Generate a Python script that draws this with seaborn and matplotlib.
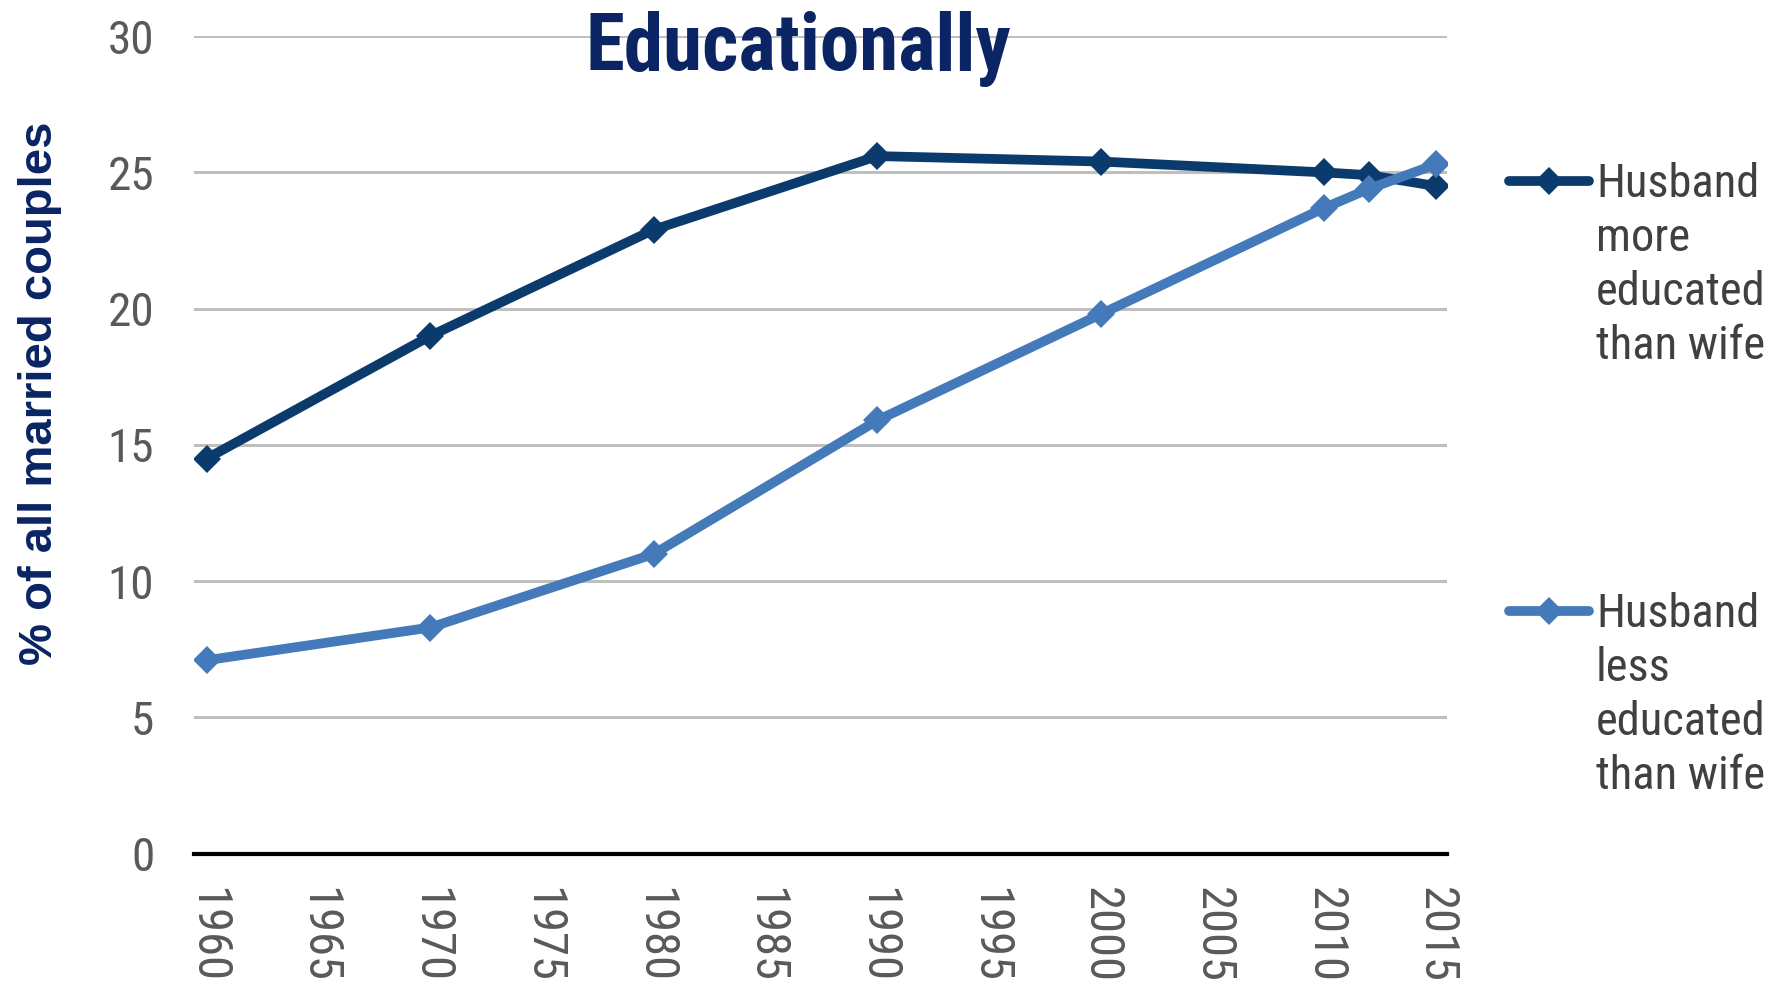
import matplotlib
matplotlib.use("Agg")
import matplotlib.pyplot as plt
from matplotlib.lines import Line2D
import seaborn as sns
import pandas as pd

# Survey years
years = [1960, 1970, 1980, 1990, 2000, 2010, 2012, 2015]
# Share of all married couples (%)
husband_more = [14.5, 19.0, 22.9, 25.6, 25.4, 25.0, 24.9, 24.5]
husband_less = [7.1, 8.3, 11.0, 15.9, 19.8, 23.7, 24.4, 25.3]

series_names = ["Husband\nmore\neducated\nthan wife", "Husband\nless\neducated\nthan wife"]
series_colors = ["#0B3A6C", "#4479BA"]
x_ticks = list(range(1960, 2016, 5))
y_ticks = [0, 5, 10, 15, 20, 25, 30]

title_text = "Educationally"
ylabel_text = "% of all married couples"

df = pd.DataFrame({
    "year": years * 2,
    "pct": husband_more + husband_less,
    "series": [series_names[0]] * len(years) + [series_names[1]] * len(years),
})

sns.set_theme(style="white")
narrow = ["Roboto Condensed", "Liberation Sans", "DejaVu Sans"]
plt.rcParams["font.family"] = narrow

fig = plt.figure(figsize=(17.73, 9.86), dpi=100)
ax = fig.add_axes([0.1097, 0.1342, 0.8163 - 0.1097, 0.9633 - 0.1342])

sns.lineplot(
    data=df, x="year", y="pct", hue="series", palette=series_colors,
    marker="D", markersize=14, markeredgewidth=0, linewidth=7,
    legend=False, ax=ax, zorder=3,
)

ax.set_xlim(1959.45, 2015.5)
ax.set_ylim(0, 30)
ax.set_yticks(y_ticks)
ax.set_xticks(x_ticks)
ax.set_xticklabels([str(t) for t in x_ticks], rotation=-90, ha="center", va="top")
ax.tick_params(axis="y", length=0, pad=29, labelsize=34, labelcolor="#595959")
ax.tick_params(axis="x", length=0, pad=24, labelsize=35, labelcolor="#595959")
ax.yaxis.grid(True, color="#BFBFBF", linewidth=2.2)
ax.xaxis.grid(False)
for side in ["left", "right", "top"]:
    ax.spines[side].set_visible(False)
ax.spines["bottom"].set_color("black")
ax.spines["bottom"].set_linewidth(3)
ax.spines["bottom"].set_zorder(4)
ax.set_xlabel("")
ax.set_ylabel("")

# Title and vertical axis label
fig.text(798 / 1773, 1 - 70 / 986, title_text, ha="center", va="baseline",
         fontsize=57, fontweight="bold", color="#0A2464", family=narrow)
fig.text(40 / 1773, 1 - 393 / 986, ylabel_text, rotation=90, ha="center", va="center",
         fontsize=34, fontweight="bold", color="#0A2464",
         family=["Liberation Sans", "DejaVu Sans"])

# Legend entries on the right
legend_rows = [181, 611]
for name, color, ypx in zip(series_names, series_colors, legend_rows):
    yf = 1 - ypx / 986
    fig.add_artist(Line2D([1509 / 1773, 1589 / 1773], [yf, yf], color=color,
                          linewidth=7, transform=fig.transFigure))
    fig.add_artist(Line2D([1549 / 1773], [yf], color=color, marker="D",
                          markersize=14, markeredgewidth=0, transform=fig.transFigure))
    fig.text(1596 / 1773, 1 - (ypx + 84) / 986, name, ha="left", va="center",
             fontsize=33.5, color="#404040", linespacing=1.28, family=narrow,
             transform=fig.transFigure)

fig.savefig("out.png", dpi=100)
